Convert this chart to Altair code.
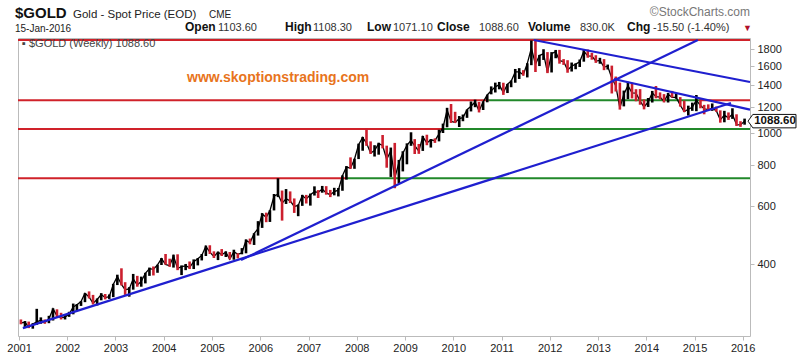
import altair as alt
import pandas as pd

# ---------------- data (monthly, Jan 2001 .. Jan 2016) ----------------
prev_close_2000 = 272.7
close = [
    265.6, 266.7, 257.7, 263.2, 267.5, 270.6, 266.0, 273.0, 293.1, 278.8, 275.5, 276.5,
    282.3, 296.9, 301.4, 308.2, 326.6, 318.5, 304.7, 312.8, 323.7, 316.9, 319.1, 347.2,
    367.5, 347.5, 334.9, 336.8, 361.4, 346.0, 354.8, 375.6, 388.0, 386.3, 398.4, 416.3,
    399.8, 395.9, 423.7, 388.5, 393.3, 395.8, 391.4, 407.3, 415.7, 425.6, 453.4, 435.6,
    422.2, 435.5, 427.5, 435.7, 414.5, 437.1, 429.0, 433.3, 473.3, 465.0, 495.7, 513.0,
    568.8, 556.0, 582.0, 644.0, 653.0, 613.5, 632.5, 623.5, 599.3, 603.8, 646.7, 632.0,
    650.5, 664.2, 661.8, 677.0, 659.1, 650.5, 665.5, 672.0, 743.0, 789.5, 783.5, 833.8,
    923.3, 971.5, 933.5, 871.0, 885.8, 930.3, 918.0, 833.0, 884.5, 730.8, 814.5, 869.8,
    919.5, 952.0, 916.5, 883.3, 975.5, 934.5, 955.5, 949.5, 995.8, 1040.0, 1175.8, 1087.5,
    1078.5, 1108.3, 1115.5, 1179.3, 1207.5, 1244.5, 1169.0, 1246.0, 1307.5, 1346.8, 1383.5, 1405.5,
    1327.0, 1411.0, 1439.0, 1535.5, 1536.5, 1505.5, 1628.5, 1813.5, 1620.0, 1722.0, 1746.0, 1531.0,
    1744.0, 1770.0, 1662.5, 1651.3, 1558.0, 1598.5, 1622.0, 1648.5, 1776.0, 1719.0, 1714.5, 1657.5,
    1664.8, 1588.5, 1598.3, 1469.0, 1394.5, 1192.0, 1314.5, 1394.8, 1326.5, 1324.0, 1253.0, 1201.5,
    1244.8, 1326.5, 1291.8, 1288.5, 1250.5, 1315.0, 1285.3, 1285.8, 1216.5, 1164.3, 1182.8, 1199.3,
    1260.3, 1214.0, 1187.0, 1180.3, 1190.0, 1171.0, 1098.4, 1135.0, 1114.0, 1142.3, 1061.5, 1060.0,
    1088.6,
]
high = [
    272, 269, 268, 265, 293, 276, 272, 279, 294, 292, 285, 282,
    287, 304, 303, 309, 327, 331, 323, 315, 327, 325, 324, 349,
    372, 389, 353, 341, 374, 369, 367, 377, 391, 394, 399, 418,
    430, 416, 428, 429, 397, 401, 408, 414, 418, 430, 456, 457,
    438, 437, 445, 438, 436, 443, 432, 448, 476, 479, 497, 541,
    572, 574, 584, 654, 730, 670, 677, 666, 634, 608, 650, 650,
    656, 690, 672, 692, 691, 673, 683, 682, 745, 795, 845, 837,
    930, 975, 1033, 945, 920, 936, 988, 917, 905, 935, 830, 882,
    932, 1007, 960, 928, 982, 990, 960, 965, 1025, 1070, 1195, 1227,
    1162, 1128, 1140, 1180, 1249, 1265, 1245, 1250, 1310, 1388, 1425, 1432,
    1424, 1412, 1447, 1568, 1577, 1555, 1632, 1913, 1920, 1730, 1800, 1764,
    1764, 1791, 1792, 1680, 1667, 1640, 1630, 1675, 1790, 1796, 1755, 1726,
    1695, 1680, 1617, 1605, 1487, 1425, 1348, 1434, 1424, 1361, 1362, 1267,
    1280, 1345, 1392, 1331, 1315, 1326, 1345, 1322, 1288, 1256, 1213, 1239,
    1307, 1280, 1220, 1224, 1232, 1205, 1174, 1170, 1157, 1191, 1142, 1088,
    1108,
]
low = [
    263, 256, 256, 255, 262, 264, 264, 265, 270, 276, 272, 272,
    277, 282, 289, 299, 307, 315, 302, 300, 311, 313, 314, 318,
    346, 345, 323, 319, 335, 342, 342, 350, 369, 370, 377, 398,
    399, 393, 391, 384, 371, 384, 387, 387, 397, 411, 424, 430,
    418, 412, 424, 421, 414, 413, 417, 429, 432, 460, 458, 489,
    516, 537, 538, 583, 640, 543, 610, 614, 573, 560, 602, 612,
    603, 647, 636, 660, 651, 640, 648, 643, 669, 723, 780, 780,
    835, 885, 916, 865, 850, 861, 900, 786, 737, 681, 705, 766,
    805, 916, 865, 866, 884, 920, 905, 935, 945, 1002, 1043, 1075,
    1075, 1045, 1088, 1114, 1165, 1200, 1157, 1177, 1242, 1313, 1330, 1360,
    1308, 1325, 1380, 1424, 1462, 1496, 1478, 1610, 1535, 1600, 1670, 1523,
    1530, 1690, 1627, 1613, 1527, 1540, 1565, 1590, 1650, 1696, 1673, 1636,
    1626, 1555, 1562, 1321, 1339, 1180, 1207, 1270, 1276, 1251, 1221, 1182,
    1202, 1240, 1277, 1268, 1241, 1240, 1284, 1273, 1205, 1160, 1132, 1170,
    1167, 1191, 1142, 1175, 1170, 1162, 1077, 1080, 1098, 1106, 1052, 1046,
    1062,
]

# horizontal support / resistance levels
level_price = [1920, 1260, 1260, 1260, 1030, 1030, 730, 730]
level_start = ["2000-12-24", "2000-12-24", "2010-09-27", "2015-02-17",
               "2000-12-24", "2009-10-22", "2000-12-24", "2007-10-12"]
level_end = ["2016-02-25", "2010-09-27", "2015-02-17", "2016-02-25",
             "2009-10-22", "2016-02-25", "2007-10-12", "2016-02-25"]
level_kind = ["red", "red", "green", "red", "red", "green", "red", "green"]

# trend lines
trend_start_date = ["2001-01-30", "2005-08-08", "2011-09-02", "2013-04-30"]
trend_start_price = [256, 412, 1920, 1462]
trend_end_date = ["2015-10-04", "2015-01-26", "2016-02-25", "2016-02-25"]
trend_end_price = [1236, 1920, 1431, 1180]

year_ticks = list(range(2001, 2017))
price_ticks = [400, 600, 800, 1000, 1200, 1400, 1600, 1800]
last_close = 1088.60

# ---------------- tables ----------------
RED = "#d0222a"
GREEN = "#21882a"
BLUE = "#1f1fcf"
dates = [pd.Timestamp(2001 + i // 12, i % 12 + 1, 15) for i in range(len(close))]
opens = [prev_close_2000] + close[:-1]
bars = pd.DataFrame({"date": dates, "high": high, "low": low, "close": close})
bars["col"] = ["#000000" if c >= o else "#cc1f2e" for c, o in zip(close, opens)]

levels = pd.DataFrame({"start": level_start, "end": level_end, "price": level_price,
                       "col": [RED if k == "red" else GREEN for k in level_kind]})
trends = pd.DataFrame({"d1": trend_start_date, "p1": trend_start_price,
                       "d2": trend_end_date, "p2": trend_end_price})

FONT = "Liberation Sans"
xscale = alt.Scale(domain=["2000-12-24", "2016-02-25"])
yscale = alt.Scale(type="log", domain=[242.3, 1947], nice=False)
xaxis = alt.Axis(values=[alt.DateTime(year=y, month=1, date=1) for y in year_ticks],
                 format="%Y", labelFont=FONT, labelFontSize=11, labelColor="#222",
                 tickColor="#bbb", tickSize=4, domain=False, grid=False, labelPadding=2,
                 title=None)
yaxis = alt.Axis(orient="right", values=price_ticks, format="d", labelFont=FONT,
                 labelFontSize=11, labelColor="#222", tickColor="#bbb", tickSize=4,
                 domain=False, grid=False, labelPadding=3, title=None)


def X(field):
    return alt.X(field, scale=xscale, axis=xaxis, title=None)


def Y(field):
    return alt.Y(field, scale=yscale, axis=yaxis, title=None)


level_layer = alt.Chart(levels).mark_rule(strokeWidth=2).encode(
    x=X("start:T"), x2="end:T", y=Y("price:Q"),
    color=alt.Color("col:N", scale=None),
)

close_line = alt.Chart(bars).mark_line(strokeWidth=1.3, color="#000000").encode(
    x=X("date:T"), y=Y("close:Q"),
)

bar_layer = alt.Chart(bars).mark_rule(strokeWidth=2.6).encode(
    x=X("date:T"), y=Y("low:Q"), y2="high:Q",
    color=alt.Color("col:N", scale=None),
)

trend_layer = alt.Chart(trends).mark_rule(strokeWidth=2.2, color=BLUE).encode(
    x=X("d1:T"), x2="d2:T", y=Y("p1:Q"), y2="p2:Q",
)


def txt(s, x, y, size=11, bold=False, color="#222", align="left"):
    return alt.Chart(pd.DataFrame({"t": [s]})).mark_text(
        align=align, baseline="alphabetic", font=FONT, fontSize=size,
        fontWeight="bold" if bold else "normal", color=color,
    ).encode(x=alt.value(x), y=alt.value(y), text="t:N")


texts = [
    txt("$GOLD", -3, -20, 15, True, "#111"),
    txt("Gold - Spot Price (EOD)", 55, -20, 11.5, False, "#222"),
    txt("CME", 191, -20, 10, False, "#222"),
    txt("15-Jan-2016", -3, -6, 10, False, "#222"),
    txt("Open", 167, -7, 12, True, "#111"),
    txt("1103.60", 200, -7, 11, False, "#333"),
    txt("High", 267, -7, 12, True, "#111"),
    txt("1108.30", 295, -7, 11, False, "#333"),
    txt("Low", 349, -7, 12, True, "#111"),
    txt("1071.10", 375, -7, 11, False, "#333"),
    txt("Close", 419, -7, 12, True, "#111"),
    txt("1088.60", 461, -7, 11, False, "#333"),
    txt("Volume", 510, -7, 12, True, "#111"),
    txt("830.0K", 562, -7, 11, False, "#333"),
    txt("Chg", 609, -7, 12, True, "#111"),
    txt("-15.50 (-1.40%)", 635, -7, 11, False, "#333"),
    txt("▼", 725, -7, 9, False, "#b0102a"),
    txt("©StockCharts.com", 732, -22, 12, False, "#777", "right"),
    txt("▪ $GOLD (Weekly) 1088.60", 4, 9, 11, False, "#444"),
    txt("www.skoptionstrading.com", 169, 44, 14, True, "#e8741c"),
]

last_df = pd.DataFrame({"close": [last_close], "t": ["1088.60"]})
box = alt.Chart(last_df).mark_point(
    shape="M-1,0L-0.8,-0.28L1,-0.28L1,0.28L-0.8,0.28Z", size=2300, filled=True,
    fill="white", stroke="#111", strokeWidth=1, opacity=1,
).encode(x=alt.value(754), y=Y("close:Q"))
box_text = alt.Chart(last_df).mark_text(
    font=FONT, fontSize=11.5, fontWeight="bold", color="#111", align="center", baseline="middle"
).encode(x=alt.value(757), y=Y("close:Q"), text="t:N")

chart = alt.layer(level_layer, close_line, bar_layer, trend_layer, box, box_text, *texts).properties(
    width=732, height=298,
    autosize=alt.AutoSizeParams(type="none"),
    padding={"left": 18, "top": 38, "right": 50, "bottom": 20},
    background="white",
).configure_view(stroke="#bbb", strokeWidth=1)

chart.save("out.html", embed_options={"renderer": "svg", "actions": False})
